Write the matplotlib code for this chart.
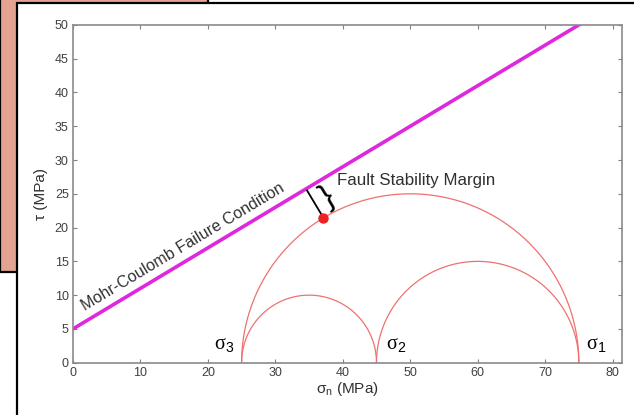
import numpy as np
import matplotlib
matplotlib.use('Agg')
import matplotlib.pyplot as plt
from matplotlib.patches import Rectangle

plt.rcParams['font.family'] = ['Liberation Sans', 'DejaVu Sans']
plt.rcParams['mathtext.fontset'] = 'custom'
plt.rcParams['mathtext.rm'] = 'Liberation Sans'
plt.rcParams['mathtext.it'] = 'Liberation Sans'

# principal stresses (MPa)
sigma_1 = 75
sigma_2 = 45
sigma_3 = 25

# Mohr-Coulomb failure envelope: tau = cohesion + mu * sigma_n
cohesion = 5
mu = 0.6

x_ticks = [0, 10, 20, 30, 40, 50, 60, 70, 80]
y_ticks = [0, 5, 10, 15, 20, 25, 30, 35, 40, 45, 50]

pairs = [(sigma_3, sigma_1), (sigma_3, sigma_2), (sigma_2, sigma_1)]

fig = plt.figure(figsize=(6.34, 4.15), dpi=100)

# background frames
fig.patches.append(Rectangle((0, 0.3446), 0.328, 0.7, transform=fig.transFigure,
                             facecolor='#e2a491', edgecolor='black', lw=1.6, zorder=0))
fig.patches.append(Rectangle((0.0268, -0.05), 1.1, 1.0428, transform=fig.transFigure,
                             facecolor='white', edgecolor='black', lw=1.6, zorder=1))

ax = fig.add_axes([0.1151, 0.126, 0.866, 0.814])
ax.set_zorder(2)
ax.patch.set_alpha(0)

# Mohr circles
t = np.linspace(0, np.pi, 400)
for lo, hi in pairs:
    c = (lo + hi) / 2
    r = (hi - lo) / 2
    ax.plot(c + r * np.cos(t), r * np.sin(t), color='#f07070', lw=0.9)

# failure envelope
sn = np.linspace(0, 82, 10)
ax.plot(sn, cohesion + mu * sn, color='#dd28dd', lw=2.6)

# closest point of the largest circle to the envelope
c = (sigma_1 + sigma_3) / 2
r = (sigma_1 - sigma_3) / 2
nrm = np.array([-mu, 1.0]) / np.hypot(mu, 1.0)
p = np.array([c, 0.0]) + r * nrm
gap = (cohesion + mu * p[0] - p[1]) / np.hypot(mu, 1.0)
foot = p + (gap - 0.3) * nrm
ax.plot([p[0], foot[0]], [p[1], foot[1]], color='black', lw=1.3)
ax.plot(p[0], p[1], 'o', color='#ee2222', ms=6.5, zorder=5)

along = np.array([1.0, mu]) / np.hypot(mu, 1.0)
mid = (p + foot) / 2 + 2.1 * along
ax.text(mid[0], mid[1], '}', fontsize=23, rotation=31, ha='center', va='center',
        family='Liberation Sans', fontweight='light')

ax.text(39.2, 27.0, 'Fault Stability Margin', fontsize=12.2, ha='left', va='center',
        color='#303030')
ax.text(1.8, 7.6, 'Mohr-Coulomb Failure Condition', fontsize=11.6, rotation=31,
        rotation_mode='anchor', ha='left', va='baseline', color='#303030')

for lab, xs in [('3', 22.4), ('2', 47.9), ('1', 77.6)]:
    ax.text(xs, 2.5, 'σ$_' + lab + '$', fontsize=14.5, ha='center', va='center',
            family='Liberation Serif')

ax.set_xlim(0, 81.4)
ax.set_ylim(0, 50)
ax.set_xticks(x_ticks)
ax.set_yticks(y_ticks)
ax.tick_params(direction='in', top=True, right=True, length=3, width=0.8,
               labelsize=9, colors='#808080', labelcolor='#404040', pad=3)
for s in ax.spines.values():
    s.set_color('#8a8a8a')
    s.set_linewidth(1.2)

ax.set_xlabel('σ$_n$ (MPa)', fontsize=11, color='#303030', labelpad=1)
ax.set_ylabel('τ (MPa)', fontsize=11, color='#303030', labelpad=5)

fig.savefig('out.png', dpi=100)
